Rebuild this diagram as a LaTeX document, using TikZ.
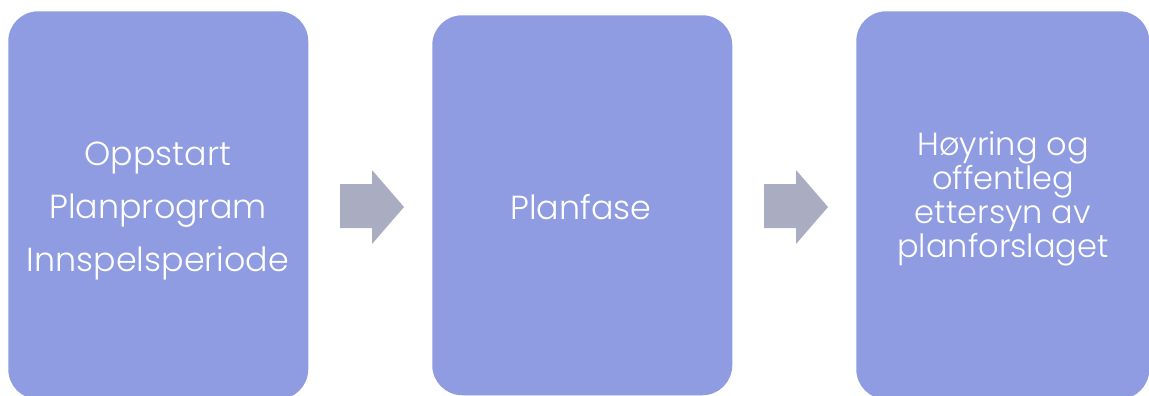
\documentclass[tikz,border=0pt]{standalone}
\usepackage{fontspec}
\setmainfont{Poppins}[UprightFont=* Light]
\usetikzlibrary{positioning}
\definecolor{stepblue}{RGB}{143,156,225}
\definecolor{arrowgrey}{RGB}{170,173,194}
\tikzset{
  stepbox/.style={fill=stepblue, draw=none, rounded corners=22.5pt, inner sep=0pt,
    minimum width=225pt, text=white, align=center},
  bigtext/.style={font=\fontsize{25}{40}\selectfont},
  smalltext/.style={font=\fontsize{24}{25.5}\selectfont},
  blockarrow/.style={fill=arrowgrey, draw=none}
}
\begin{document}
\begin{tikzpicture}[x=0.75pt,y=0.75pt,yscale=-1,xscale=1]
    \useasboundingbox (0,0) rectangle (1149,396);
    % boxes
    \node [stepbox, minimum height=291pt, anchor=north west] (start) at (8,11) {};
    \node [stepbox, minimum height=285pt, anchor=north west] (plan) at (432,15) {};
    \node [stepbox, minimum height=291pt, anchor=north west, minimum width=219.75pt] (hoyring) at (856,11) {};
    % texts
    \node [bigtext, text=white, align=center] (starttext) at (158,211) {Oppstart\\Planprogram\\Innspelsperiode};
    \node [bigtext, text=white] (plantext) at (581,207) {Planfase};
    \node [smalltext, text=white, align=center] (hoyringtext) at (1003,199) {Høyring og\\offentleg\\ettersyn av\\planforslaget};
    % arrows
    \fill [blockarrow] (340,184) -- (372,184) -- (372,170) -- (404,207) -- (372,244) -- (372,228) -- (340,228) -- cycle;
    \fill [blockarrow] (764,184) -- (796,184) -- (796,170) -- (828,207) -- (796,244) -- (796,228) -- (764,228) -- cycle;
\end{tikzpicture}
\end{document}
